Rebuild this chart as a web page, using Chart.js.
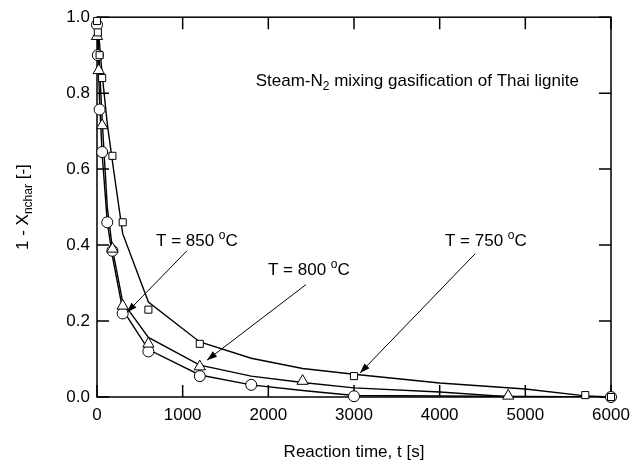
<!DOCTYPE html>
<html><head><meta charset="utf-8">
<script src="https://cdn.jsdelivr.net/npm/chart.js@4/dist/chart.umd.min.js"></script>
<style>html,body{margin:0;padding:0;background:#fff;}canvas{display:block}</style>
</head><body>
<canvas id="c" width="638" height="470"></canvas>
<script>
const FONT = '"Liberation Sans", Arial, sans-serif';

// Measured points (markers)
const t750 = [0, 10, 30, 60, 180, 300, 600, 1200, 3000, 5700, 6000];
const y750 = [0.99, 0.96, 0.90, 0.84, 0.635, 0.46, 0.23, 0.14, 0.055, 0.005, 0];
const t800 = [0, 20, 60, 180, 300, 600, 1200, 2400, 4800];
const y800 = [0.95, 0.86, 0.715, 0.39, 0.24, 0.14, 0.08, 0.042, 0.003];
const t850 = [0, 10, 30, 60, 120, 180, 300, 600, 1200, 1800, 3000, 6000];
const y850 = [0.98, 0.90, 0.757, 0.645, 0.46, 0.385, 0.22, 0.12, 0.055, 0.032, 0.002, 0];

// Model curves
const fitT750 = [0, 30, 60, 120, 180, 300, 600, 1200, 1800, 2400, 3000, 4000, 5000, 5700, 6000];
const fitY750 = [1.0, 0.93, 0.85, 0.72, 0.62, 0.43, 0.25, 0.145, 0.102, 0.075, 0.06, 0.037, 0.021, 0.003, 0];
const fitT800 = [0, 30, 60, 120, 180, 300, 600, 1200, 1800, 2400, 3000, 4000, 4800, 6000];
const fitY800 = [1.0, 0.87, 0.73, 0.50, 0.39, 0.25, 0.157, 0.084, 0.055, 0.038, 0.024, 0.013, 0.001, 0];
const fitT850 = [0, 30, 60, 120, 180, 300, 600, 1200, 1800, 2400, 3000, 6000];
const fitY850 = [1.0, 0.78, 0.64, 0.46, 0.37, 0.23, 0.125, 0.058, 0.032, 0.017, 0.004, 0];

// Axis ticks
const xTicks = [0, 1000, 2000, 3000, 4000, 5000, 6000];
const yTicks = [0, 0.2, 0.4, 0.6, 0.8, 1.0];

// Temperature labels
const tempLabels = ['T = 850 ', 'T = 800 ', 'T = 750 '];
const tempTextPos = [[689, 0.398], [1996, 0.322], [4062, 0.398]];
const tempArrows = [[[1050, 0.385], [350, 0.223]], [[2440, 0.296], [1284, 0.097]], [[4413, 0.377], [3070, 0.063]]];
const titleText = ['Steam-N', '2', ' mixing gasification of Thai lignite'];
const titlePos = [5625, 0.82];

const zip = (a, b) => a.map((v, i) => ({x: v, y: b[i]}));
const markerDs = (t, y, style, r) => ({
  data: zip(t, y), showLine: false, pointStyle: style, pointRadius: r, pointHoverRadius: r,
  pointBackgroundColor: '#fff', pointBorderColor: '#000', pointBorderWidth: 1, clip: false
});
const lineDs = (t, y) => ({
  data: zip(t, y), showLine: true, pointRadius: 0, borderColor: '#000', borderWidth: 1.4, tension: 0, fill: false
});

function drawRich(ctx, parts, x, y, align) {
  let w = 0;
  parts.forEach(p => { ctx.font = p.s + 'px ' + FONT; w += ctx.measureText(p.t).width; });
  let cx = align === 'right' ? x - w : (align === 'center' ? x - w / 2 : x);
  ctx.textBaseline = 'alphabetic'; ctx.textAlign = 'left'; ctx.fillStyle = '#000';
  parts.forEach(p => { ctx.font = p.s + 'px ' + FONT; ctx.fillText(p.t, cx, y + (p.dy || 0)); cx += ctx.measureText(p.t).width; });
}

const deco = {
  id: 'deco',
  beforeDatasetsDraw(chart) {
    const {ctx, chartArea: a, scales: {x, y}} = chart;
    ctx.save();
    ctx.strokeStyle = '#000';
    ctx.lineWidth = 1.5;
    ctx.strokeRect(a.left, a.top, a.right - a.left, a.bottom - a.top);
    const L = 12;
    ctx.beginPath();
    xTicks.forEach(v => { const px = x.getPixelForValue(v);
      ctx.moveTo(px, a.bottom); ctx.lineTo(px, a.bottom - L);
      ctx.moveTo(px, a.top); ctx.lineTo(px, a.top + L); });
    yTicks.forEach(v => { const py = y.getPixelForValue(v);
      ctx.moveTo(a.left, py); ctx.lineTo(a.left + L, py);
      ctx.moveTo(a.right, py); ctx.lineTo(a.right - L, py); });
    ctx.stroke();
    ctx.restore();
  },
  afterDraw(chart) {
    const {ctx, chartArea: a, scales: {x, y}} = chart;
    ctx.save();
    ctx.strokeStyle = '#000';
    // title
    drawRich(ctx, [{t: titleText[0], s: 17}, {t: titleText[1], s: 12, dy: 4}, {t: titleText[2], s: 17}],
      x.getPixelForValue(titlePos[0]), y.getPixelForValue(titlePos[1]), 'right');
    // temperature labels + arrows
    tempLabels.forEach((lab, i) => {
      drawRich(ctx, [{t: lab, s: 17}, {t: 'o', s: 12, dy: -7}, {t: 'C', s: 17}],
        x.getPixelForValue(tempTextPos[i][0]), y.getPixelForValue(tempTextPos[i][1]), 'left');
      const [s, e] = tempArrows[i];
      const x0 = x.getPixelForValue(s[0]), y0 = y.getPixelForValue(s[1]);
      const x1 = x.getPixelForValue(e[0]), y1 = y.getPixelForValue(e[1]);
      ctx.lineWidth = 1;
      ctx.beginPath(); ctx.moveTo(x0, y0); ctx.lineTo(x1, y1); ctx.stroke();
      const ang = Math.atan2(y1 - y0, x1 - x0), hl = 10, hw = 3.5;
      ctx.beginPath();
      ctx.moveTo(x1, y1);
      ctx.lineTo(x1 - hl * Math.cos(ang) + hw * Math.sin(ang), y1 - hl * Math.sin(ang) - hw * Math.cos(ang));
      ctx.lineTo(x1 - hl * Math.cos(ang) - hw * Math.sin(ang), y1 - hl * Math.sin(ang) + hw * Math.cos(ang));
      ctx.closePath(); ctx.fillStyle = '#000'; ctx.fill();
    });
    // axis titles
    drawRich(ctx, [{t: 'Reaction time, t [s]', s: 17}], (a.left + a.right) / 2, 457, 'center');
    ctx.translate(28, (a.top + a.bottom) / 2);
    ctx.rotate(-Math.PI / 2);
    drawRich(ctx, [{t: '1 - X', s: 17}, {t: 'nchar', s: 12, dy: 4}, {t: ' [-]', s: 17}], 0, 0, 'center');
    ctx.restore();
  }
};

new Chart(document.getElementById('c'), {
  type: 'scatter',
  data: { datasets: [
    markerDs(t750, y750, 'rect', 5),
    markerDs(t800, y800, 'triangle', 6.5),
    markerDs(t850, y850, 'circle', 5.5),
    lineDs(fitT850, fitY850),
    lineDs(fitT800, fitY800),
    lineDs(fitT750, fitY750)
  ]},
  options: {
    responsive: false, animation: false, events: [],
    layout: { padding: { left: 0, right: 27, top: 15, bottom: 0 } },
    plugins: { legend: { display: false }, tooltip: { enabled: false } },
    scales: {
      x: {
        type: 'linear', min: 0, max: 6000,
        afterBuildTicks: s => { s.ticks = xTicks.map(v => ({value: v})); },
        afterFit: s => { s.height = 73; },
        grid: { display: false, drawTicks: false },
        border: { display: false },
        ticks: { padding: 8, color: '#000', font: { family: FONT, size: 17 }, maxRotation: 0,
          callback: v => String(v) }
      },
      y: {
        type: 'linear', min: 0, max: 1,
        afterBuildTicks: s => { s.ticks = yTicks.map(v => ({value: v})); },
        afterFit: s => { s.width = 97; },
        grid: { display: false, drawTicks: false },
        border: { display: false },
        ticks: { padding: 7, color: '#000', font: { family: FONT, size: 17 },
          callback: v => Number(v).toFixed(1) }
      }
    }
  },
  plugins: [deco]
});
</script>
</body></html>
